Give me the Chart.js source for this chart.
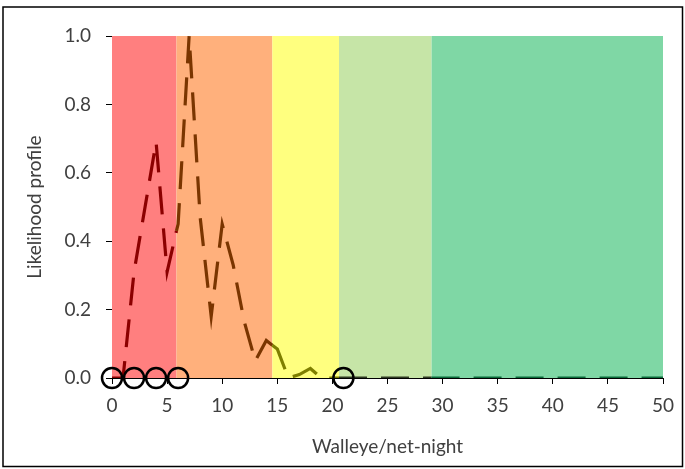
<!DOCTYPE html>
<html>
<head>
<meta charset="utf-8">
<script src="https://cdn.jsdelivr.net/npm/chart.js@4"></script>
<style>
  html, body { margin: 0; padding: 0; background: #fff; }
  #wrap { width: 685px; height: 469px; }
</style>
</head>
<body>
<div id="wrap"><canvas id="chart"></canvas></div>
<script>
// colour bands (walleye/net-night)
const bandEdges = [0, 5.85, 14.55, 20.6, 29, 50];
const bandColors = ['#ff7f7f', '#ffb07c', '#ffff7f', '#c6e5a7', '#7fd7a5'];
const lineColors = ['#8b0000', '#7a3500', '#7f7f00', '#2e3a22', '#0b6b3a'];

// likelihood profile
const profileX = [0, 1, 2, 3, 4, 5, 5.85, 6, 7, 8, 9, 10, 11, 12, 13, 14, 14.55, 15, 16, 17, 18, 19, 20.6, 29, 50];
const profileY = [0, 0, 0.31, 0.5, 0.69, 0.31, 0.43, 0.45, 1.0, 0.47, 0.18, 0.45, 0.33, 0.165, 0.05, 0.11, 0.096, 0.085, 0, 0.01, 0.028, 0, 0, 0, 0];

// observed catches (open circles)
const obsX = [0, 2, 4, 6, 21];
const obsY = [0, 0, 0, 0, 0];

const xTicks = [0, 5, 10, 15, 20, 25, 30, 35, 40, 45, 50];
const yTicks = [0, 0.2, 0.4, 0.6, 0.8, 1.0];

function bandIndex(x) {
    for (let i = 0; i < bandColors.length; i++) {
        if (x < bandEdges[i + 1]) return i;
    }
    return bandColors.length - 1;
}

const bandsPlugin = {
    id: 'bands',
    beforeDraw(chart) {
        const c = chart.ctx;
        c.save();
        c.fillStyle = '#fff';
        c.fillRect(0, 0, chart.width, chart.height);
        c.restore();
    },
    beforeDatasetsDraw(chart) {
        const c = chart.ctx, xs = chart.scales.x, ys = chart.scales.y;
        const top = ys.getPixelForValue(1), bottom = ys.getPixelForValue(0);
        c.save();
        bandColors.forEach((col, i) => {
            const l = xs.getPixelForValue(bandEdges[i]);
            const r = xs.getPixelForValue(bandEdges[i + 1]);
            c.fillStyle = col;
            c.fillRect(l, top, r - l, bottom - top);
        });
        c.restore();
    },
    afterDraw(chart) {
        const c = chart.ctx;
        c.save();
        c.strokeStyle = '#000';
        c.lineWidth = 1.5;
        c.strokeRect(3, 7, 679.5, 459.5);
        c.restore();
    }
};

Chart.defaults.font.family = 'Lato, "Open Sans", sans-serif';
Chart.defaults.font.size = 19;
Chart.defaults.color = '#404040';

new Chart(document.getElementById('chart'), {
    type: 'line',
    data: {
        datasets: [
            {
                type: 'scatter',
                label: 'Observed',
                data: obsX.map((x, i) => ({ x: x, y: obsY[i] })),
                pointRadius: 10,
                pointBorderWidth: 2.5,
                pointBorderColor: '#000',
                pointBackgroundColor: 'rgba(0,0,0,0)',
                clip: false
            },
            {
                label: 'Likelihood profile',
                data: profileX.map((x, i) => ({ x: x, y: profileY[i] })),
                borderWidth: 3.2,
                borderDash: [28, 14],
                borderCapStyle: 'butt',
                pointRadius: 0,
                fill: false,
                tension: 0,
                segment: {
                    borderColor: ctx => lineColors[bandIndex((ctx.p0.parsed.x + ctx.p1.parsed.x) / 2)]
                }
            }
        ]
    },
    options: {
        responsive: true,
        maintainAspectRatio: false,
        animation: false,
        layout: { padding: { top: 36, right: 22, left: 0, bottom: 0 } },
        plugins: {
            legend: { display: false },
            tooltip: { enabled: false }
        },
        scales: {
            x: {
                type: 'linear',
                min: 0,
                max: 50,
                afterFit: s => { s.height = 91; },
                afterBuildTicks: s => { s.ticks = xTicks.map(v => ({ value: v })); },
                grid: { drawOnChartArea: false, drawTicks: true, tickLength: 6, color: '#000' },
                border: { display: true, color: '#000', width: 1 },
                ticks: { padding: 10, maxRotation: 0 },
                title: {
                    display: true,
                    text: 'Walleye/net-night',
                    padding: { top: 0, bottom: 11 }
                }
            },
            y: {
                min: 0,
                max: 1,
                afterFit: s => { s.width = 112; },
                afterBuildTicks: s => { s.ticks = yTicks.map(v => ({ value: v })); },
                grid: { drawOnChartArea: false, drawTicks: true, tickLength: 6, color: '#000' },
                border: { display: true, color: '#000', width: 1 },
                ticks: { padding: 15, callback: v => v.toFixed(1) },
                title: {
                    display: true,
                    text: 'Likelihood profile',
                    padding: { top: 23, bottom: 0 }
                }
            }
        }
    },
    plugins: [bandsPlugin]
});
</script>
</body>
</html>
